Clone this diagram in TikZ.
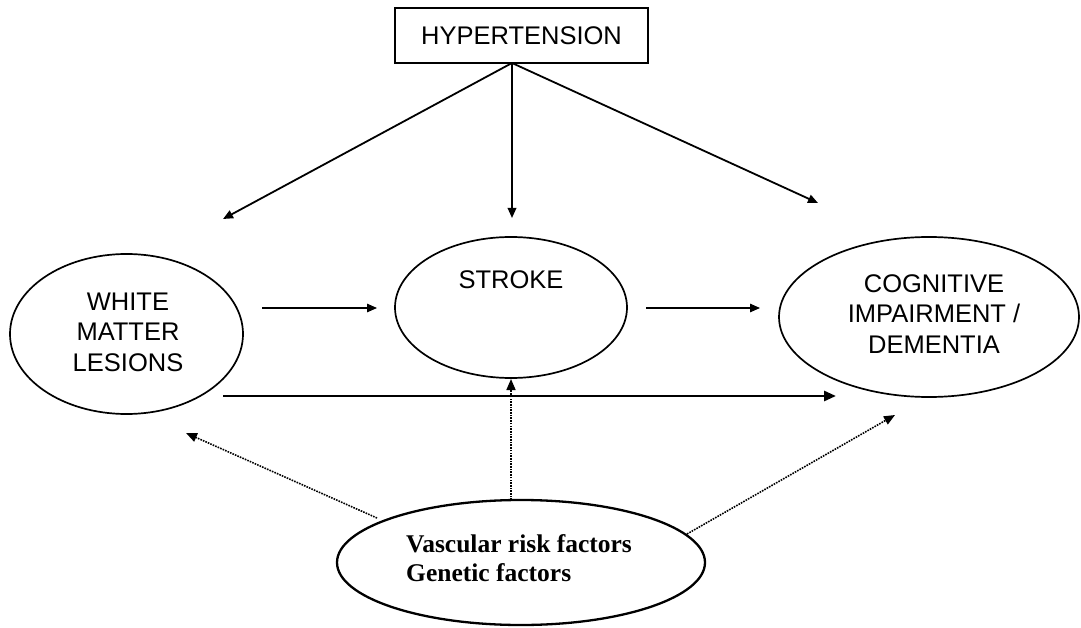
\documentclass[tikz,border=0pt]{standalone}
\usepackage{fontspec}
\setmainfont{Liberation Sans}
\newfontfamily\serifbold{Liberation Serif}
\usetikzlibrary{arrows.meta,shapes.geometric}
\tikzset{
  ell/.style={draw, ellipse, line width=1.7pt, inner sep=0pt},
  lbl/.style={font=\fontsize{25.5}{30.5}\selectfont, align=center, inner sep=0pt},
  tip/.style={-{Triangle[length=10pt,width=8.5pt]}},
  thinarr/.style={tip, line width=1.4pt},
  hyparr/.style={tip, line width=1.8pt},
  thickarr/.style={-{Triangle[length=12pt,width=10pt]}, line width=2.7pt},
  dotarr/.style={-{Triangle[length=11pt,width=9pt]}, line width=1.6pt, dash pattern=on 1.6pt off 1.1pt},
}
\begin{document}
\begin{tikzpicture}[x=1pt,y=-1pt]
\useasboundingbox (0,0) rectangle (1081,628);
\fill[white] (0,0) rectangle (1081,628);

% nodes
\node[draw, line width=1.9pt, minimum width=253pt, minimum height=55pt, inner sep=0pt,
      font=\fontsize{25.5}{30}\selectfont] (hyp) at (521.5,35.5) {HYPERTENSION};
\node[ell, minimum width=233pt, minimum height=160pt] (wml) at (126.5,334) {};
\node[ell, minimum width=232pt, minimum height=141pt] (stroke) at (511,307.5) {};
\node[ell, minimum width=300pt, minimum height=160pt] (cog) at (929,317) {};
\node[ell, line width=2.3pt, minimum width=368pt, minimum height=125pt] (risk) at (521,562.5) {};

% texts
\node[lbl] (wmlt) at (128,332) {WHITE\\MATTER\\LESIONS};
\node[lbl] (strokt) at (511,280) {STROKE};
\node[lbl] (cogt) at (934,314) {COGNITIVE\\IMPAIRMENT /\\DEMENTIA};
\node[inner sep=0pt, anchor=base west, align=left,
      font=\serifbold\bfseries\fontsize{25.5}{29}\selectfont] (riskt) at (406,581)
      {Vascular risk factors\\Genetic factors};

% connector end points
\coordinate (h0) at (512,63);
\coordinate (hw) at (223,219);
\coordinate (hs) at (512,218);
\coordinate (hc) at (818,203);
\coordinate (ws0) at (262,308);
\coordinate (ws1) at (377,308);
\coordinate (sc0) at (646,308);
\coordinate (sc1) at (760,308);
\coordinate (wc0) at (223,396);
\coordinate (wc1) at (836,396);
\coordinate (rs0) at (511,500);
\coordinate (rs1) at (511,379);
\coordinate (rw0) at (377,518);
\coordinate (rw1) at (186,433);
\coordinate (rc0) at (687,534);
\coordinate (rc1) at (895,415);

% connectors
\draw[hyparr] (h0) -- (hw);
\draw[hyparr] (h0) -- (hs);
\draw[hyparr] (h0) -- (hc);
\draw[thinarr] (ws0) -- (ws1);
\draw[thinarr] (sc0) -- (sc1);
\draw[thickarr] (wc0) -- (wc1);
\draw[dotarr] (rs0) -- (rs1);
\draw[dotarr] (rw0) -- (rw1);
\draw[dotarr] (rc0) -- (rc1);
\end{tikzpicture}
\end{document}
